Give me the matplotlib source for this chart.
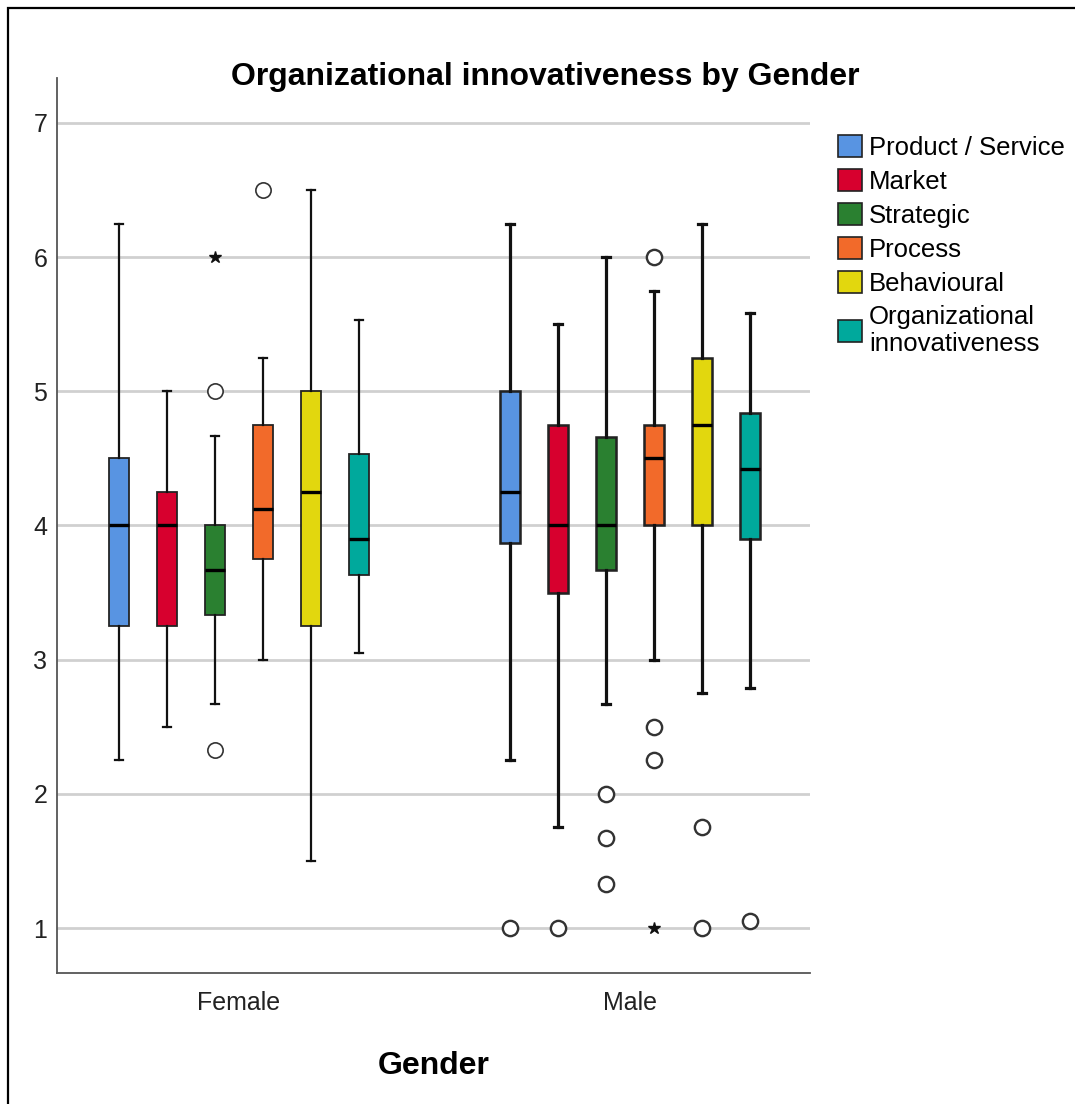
import matplotlib.pyplot as plt
from matplotlib.patches import Patch, Rectangle

plt.rcParams['font.family'] = ['Liberation Sans', 'DejaVu Sans']

genders = ['Female', 'Male']
dimensions = ['Product / Service', 'Market', 'Strategic', 'Process',
              'Behavioural', 'Organizational\ninnovativeness']
colors = ['#5894E2', '#D7002E', '#2A8030', '#F26A2A', '#E2D70E', '#00A99C']

# box statistics per dimension: [female, male]
whislo = [[2.25, 2.25], [2.5, 1.75], [2.67, 2.67], [3.0, 3.0], [1.5, 2.75], [3.05, 2.79]]
q1 = [[3.25, 3.87], [3.25, 3.5], [3.33, 3.67], [3.75, 4.0], [3.25, 4.0], [3.63, 3.9]]
med = [[4.0, 4.25], [4.0, 4.0], [3.67, 4.0], [4.125, 4.5], [4.25, 4.75], [3.9, 4.42]]
q3 = [[4.5, 5.0], [4.25, 4.75], [4.0, 4.66], [4.75, 4.75], [5.0, 5.25], [4.53, 4.84]]
whishi = [[6.25, 6.25], [5.0, 5.5], [4.67, 6.0], [5.25, 5.75], [6.5, 6.25], [5.53, 5.58]]
outliers = [[[], [1.0]], [[], [1.0]], [[5.0, 2.33], [2.0, 1.67, 1.33]],
            [[6.5], [6.0, 2.5, 2.25]], [[], [1.75, 1.0]], [[], [1.05]]]
extremes = [[[], []], [[], []], [[6.0], []], [[], [1.0]], [[], []], [[], []]]

step = 0.1228
box_w = 0.052
lws = [1.6, 2.3]

fig = plt.figure(figsize=(10.75, 11.04), dpi=100)
ax = fig.add_axes([57 / 1075, 1 - 973 / 1104, 753 / 1075, 895 / 1104])

for gi, g in enumerate(genders):
    lw = lws[gi]
    for di in range(len(dimensions)):
        pos = gi + (di - 2.5) * step
        st = {'med': med[di][gi], 'q1': q1[di][gi], 'q3': q3[di][gi],
              'whislo': whislo[di][gi], 'whishi': whishi[di][gi],
              'fliers': outliers[di][gi]}
        ax.bxp([st], positions=[pos], widths=box_w, capwidths=0.02,
               patch_artist=True, manage_ticks=False,
               boxprops=dict(facecolor=colors[di], edgecolor='#222222', linewidth=lw * 0.8),
               medianprops=dict(color='black', linewidth=2.4),
               whiskerprops=dict(color='#111111', linewidth=lw),
               capprops=dict(color='#111111', linewidth=lw),
               flierprops=dict(marker='o', markersize=11, markerfacecolor='white',
                               markeredgecolor='#333333', markeredgewidth=lw * 0.75),
               zorder=3)
        if extremes[di][gi]:
            ax.plot([pos] * len(extremes[di][gi]), extremes[di][gi], linestyle='none',
                    marker='*', markersize=9, color='#111111', zorder=4)

ax.set_xlim(-0.465, 1.46)
ax.set_ylim(0.665, 7.335)
ax.set_yticks([1, 2, 3, 4, 5, 6, 7])
ax.set_xticks([0, 1])
ax.set_xticklabels(genders)
ax.tick_params(axis='both', length=0, labelsize=18, colors='#222222')
ax.tick_params(axis='y', pad=7)
ax.tick_params(axis='x', pad=13)
ax.yaxis.grid(True, color='#D0D0D0', linewidth=2, zorder=0)
ax.set_axisbelow(True)
for s in ['top', 'right']:
    ax.spines[s].set_visible(False)
for s in ['left', 'bottom']:
    ax.spines[s].set_color('#555555')
    ax.spines[s].set_linewidth(1.3)

ax.set_xlabel('Gender', fontsize=23, fontweight='bold', labelpad=26)
fig.text(545 / 1075, 1 - 77 / 1104, 'Organizational innovativeness by Gender',
         fontsize=23, fontweight='bold', ha='center', va='center')

handles = [Patch(facecolor=c, edgecolor='#222222', linewidth=1.2) for c in colors]
fig.legend(handles, dimensions, loc='upper left', bbox_to_anchor=(838 / 1075, 1 - 135 / 1104),
           frameon=False, fontsize=18.5, handlelength=0.95, handleheight=0.95,
           handletextpad=0.25, labelspacing=0.35, borderpad=0, borderaxespad=0)

fig.patches.append(Rectangle((8 / 1075, -0.01), 1.05, 1.01 - 8 / 1104,
                             transform=fig.transFigure, fill=False,
                             edgecolor='black', linewidth=1.6))

fig.savefig('out.png', dpi=100)
